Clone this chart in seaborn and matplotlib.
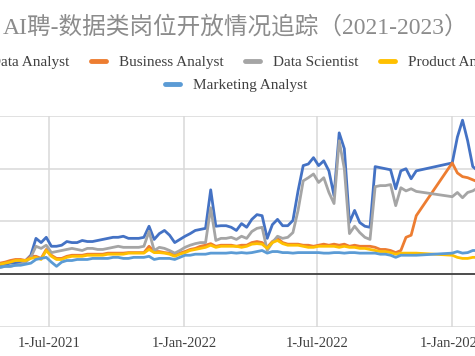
import pandas as pd
import matplotlib.pyplot as plt
from matplotlib.lines import Line2D
import seaborn as sns

sns.set_style('white')
plt.rcParams['font.family'] = ['Liberation Serif', 'Noto Sans CJK SC']

# ------------------------------------------------------------
# data (weekly snapshots, no data between mid-Nov 2022 and Jan 2023)
# ------------------------------------------------------------
dates = list(pd.date_range('2021-04-25', '2022-11-13', freq='7D')) + \
    list(pd.date_range('2023-01-01', '2023-02-05', freq='7D'))

data_analyst = [85, 95, 105, 105, 115, 130, 180, 340, 300, 350,
                265, 265, 275, 310, 300, 300, 320, 310, 310, 320,
                330, 340, 350, 350, 360, 340, 340, 340, 350, 455,
                330, 385, 415, 370, 300, 330, 360, 385, 415, 425,
                435, 800, 455, 460, 460, 445, 415, 480, 445, 520,
                565, 555, 340, 470, 520, 460, 460, 510, 790, 1030,
                1045, 1105, 1030, 1075, 980, 745, 1340, 1190, 490, 605,
                490, 455, 445, 1020, 1010, 1000, 990, 810, 980, 1000,
                905, 980,
                1055, 1300, 1460, 1265, 1020, 980]

business_analyst = [105, 115, 130, 140, 140, 130, 170, 170, 150, 235,
                    180, 150, 150, 170, 180, 180, 180, 190, 190, 190,
                    190, 200, 200, 200, 200, 205, 205, 205, 205, 265,
                    215, 215, 205, 200, 180, 200, 215, 235, 245, 265,
                    275, 290, 265, 275, 275, 275, 265, 275, 275, 300,
                    310, 300, 255, 310, 340, 300, 285, 285, 285, 275,
                    275, 265, 275, 285, 275, 285, 275, 285, 265, 275,
                    265, 265, 265, 255, 235, 235, 225, 205, 225, 350,
                    370, 555,
                    1055, 960, 925, 915, 895, 875]

data_scientist = [65, 75, 75, 85, 95, 115, 160, 265, 245, 275,
                  205, 215, 225, 235, 245, 235, 225, 245, 245, 235,
                  235, 245, 255, 265, 255, 255, 255, 255, 265, 405,
                  225, 255, 245, 225, 200, 225, 255, 275, 290, 300,
                  300, 630, 320, 340, 340, 350, 330, 360, 340, 405,
                  435, 445, 225, 300, 360, 340, 350, 395, 605, 885,
                  915, 950, 870, 915, 775, 670, 1265, 1000, 385, 455,
                  395, 350, 330, 830, 840, 840, 850, 650, 820, 790,
                  810, 785,
                  735, 775, 725, 775, 790, 820]

product_analyst = [95, 105, 115, 130, 130, 130, 150, 160, 140, 225,
                   170, 140, 140, 160, 170, 170, 170, 180, 180, 180,
                   180, 190, 190, 190, 190, 200, 200, 200, 200, 235,
                   205, 205, 200, 190, 170, 190, 205, 225, 235, 245,
                   255, 275, 255, 265, 265, 265, 265, 255, 265, 285,
                   290, 285, 245, 300, 320, 290, 275, 275, 275, 265,
                   255, 255, 265, 265, 265, 265, 255, 265, 255, 255,
                   245, 245, 235, 225, 215, 215, 205, 190, 200, 200,
                   200, 200,
                   180, 160, 150, 150, 160, 160]

marketing_analyst = [65, 75, 75, 85, 85, 95, 105, 140, 150, 160,
                     115, 75, 115, 130, 130, 140, 140, 140, 150, 150,
                     150, 150, 160, 160, 150, 150, 160, 160, 160, 170,
                     140, 150, 150, 150, 140, 160, 180, 180, 190, 190,
                     190, 200, 200, 200, 200, 205, 200, 205, 200, 205,
                     215, 225, 200, 215, 215, 205, 205, 200, 205, 205,
                     205, 205, 205, 200, 200, 205, 205, 200, 205, 205,
                     200, 200, 200, 200, 190, 190, 180, 160, 180, 180,
                     180, 180,
                     200, 215, 200, 205, 225, 225]

roles = ['Data Analyst', 'Business Analyst', 'Data Scientist',
         'Product Analyst', 'Marketing Analyst']
colors = ['#4472C4', '#ED7D31', '#A5A5A5', '#FFC000', '#5B9BD5']

tick_dates = ['2021-07-01', '2022-01-01', '2022-07-01', '2023-01-01']
tick_labels = ['1-Jul-2021', '1-Jan-2022', '1-Jul-2022', '1-Jan-2023']

title = 'AI聘-数据类岗位开放情况追踪（2021-2023）'

df = pd.DataFrame({
    'date': dates,
    'Data Analyst': data_analyst,
    'Business Analyst': business_analyst,
    'Data Scientist': data_scientist,
    'Product Analyst': product_analyst,
    'Marketing Analyst': marketing_analyst,
})
long_df = df.melt(id_vars='date', var_name='role', value_name='openings')

# ------------------------------------------------------------
# plot
# ------------------------------------------------------------
fig = plt.figure(figsize=(4.75, 3.56), dpi=100)
ax = fig.add_axes([0, 0.0815, 1, 0.5927])

sns.lineplot(data=long_df, x='date', y='openings', hue='role',
             hue_order=roles, palette=colors, lw=2.0, legend=False, ax=ax)

ax.set_xlim(pd.Timestamp('2021-04-25'), pd.Timestamp('2023-02-01'))
ax.set_ylim(-500, 1500)
ax.set_yticks([-500, 0, 500, 1000, 1500])
ax.set_yticklabels([])
ax.set_xticks(pd.to_datetime(tick_dates))
ax.set_xticklabels(tick_labels, fontsize=10.5, color='#404040')
ax.tick_params(axis='both', length=0)
ax.tick_params(axis='x', pad=7)
ax.set_xlabel('')
ax.set_ylabel('')
ax.grid(True, color='#d9d9d9', lw=1.1)
ax.axhline(0, color='#333333', lw=1.2, zorder=1.5)
for s in ax.spines.values():
    s.set_visible(False)

fig.text(0.495, 1 - 27 / 356, title, ha='center', va='center',
         fontsize=17, color='#8c8c8c')

handles = [Line2D([], [], color=c, lw=3.5) for c in colors]
leg_kw = dict(loc='center', frameon=False, fontsize=11, labelcolor='#404040',
              handlelength=1.0, handletextpad=0.85, columnspacing=1.4,
              borderpad=0, borderaxespad=0)
fig.legend(handles[:4], roles[:4], ncol=4,
           bbox_to_anchor=(0.493, 1 - 62 / 356), **leg_kw)
fig.legend(handles[4:], roles[4:], ncol=1,
           bbox_to_anchor=(0.497, 1 - 85.5 / 356), **leg_kw)

fig.savefig('out.png', dpi=100)
